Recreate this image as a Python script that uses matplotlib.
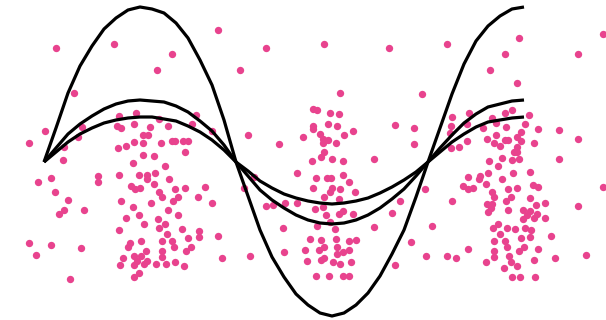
import numpy as np
import matplotlib
matplotlib.use("Agg")
import matplotlib.pyplot as plt

# scatter points (pixel-ish coords, y grows downward)
pts_x = [56, 114, 172, 157, 74, 45, 29, 82, 78, 64, 119, 136, 117, 121, 134, 150, 159, 168, 192, 196,
         143, 148, 134, 143, 126, 118, 161, 172, 175, 183, 188, 185, 143, 154, 63,
         218, 266, 324, 389, 240, 340, 313, 317, 330, 339, 395, 212, 248, 279, 303, 313, 313, 328, 337,
         320, 323, 328, 323, 336, 344, 353, 324, 321, 312, 332, 343, 374,
         447, 519, 603, 505, 578, 490, 517, 422, 414, 414, 452, 469, 451, 467, 450, 451, 459, 467, 483,
         492, 496, 505, 512, 506, 496, 487, 494, 500, 505, 508, 517, 521, 525, 529, 538, 559, 578, 534,
         521, 517, 514, 517, 489, 502, 512, 519, 559,
         133, 165, 38, 51, 55, 68, 59, 64, 84, 98, 98, 119, 139, 147, 147, 155, 169, 131, 135, 140,
         154, 159, 162, 175, 185, 121, 133, 151, 173, 178, 198, 126, 139, 144, 158, 168, 178, 119, 159,
         165, 167, 182, 199, 199, 29, 51, 36, 81, 70, 141, 130, 128, 162, 172, 174, 188, 191, 186, 146,
         162, 162, 123, 120, 134, 141, 137, 134, 147, 144, 156, 166, 175, 184, 139, 134,
         205, 212, 244, 254, 297, 316, 327, 331, 343, 349, 355, 313, 332, 330, 340, 324, 339, 266, 273,
         285, 297, 315, 323, 326, 339, 343, 353, 392, 400, 330, 335, 317, 283, 374, 218, 310, 321, 336,
         349, 356, 324, 319, 337, 337, 343, 349, 305, 284, 222, 250, 307, 321, 324, 333, 340, 351, 395,
         316, 329, 343, 349,
         498, 468, 480, 479, 488, 502, 513, 530, 463, 468, 473, 486, 492, 494, 508, 517, 533, 538, 603,
         425, 452, 487, 492, 488, 491, 506, 511, 508, 530, 536, 545, 523, 530, 527, 523, 537, 534, 545,
         578, 432, 411, 426, 447, 456, 468, 493, 498, 500, 507, 515, 525, 531, 530, 551, 494, 505, 507,
         521, 524, 519, 538, 494, 494, 509, 511, 486, 504, 517, 534, 555, 586, 512, 520, 535]
pts_y = [48, 44, 54, 70, 93, 131, 143, 127, 137, 147, 116, 113, 126, 128, 124, 127, 119, 126, 124, 115,
         135, 135, 142, 143, 146, 148, 143, 141, 141, 141, 141, 152, 155, 156, 160,
         30, 48, 44, 48, 70, 93, 109, 110, 113, 114, 125, 131, 135, 144, 137, 126, 129, 124, 126,
         134, 139, 140, 143, 143, 135, 131, 152, 157, 161, 159, 161, 159,
         44, 38, 34, 54, 54, 70, 83, 94, 128, 144, 117, 113, 126, 124, 133, 148, 147, 141, 128,
         118, 123, 113, 110, 127, 135, 139, 143, 146, 140, 140, 137, 132, 124, 115, 129, 130, 139, 143,
         141, 147, 152, 152, 161, 158, 160, 159, 159,
         163, 166, 182, 178, 192, 200, 214, 210, 210, 176, 182, 175, 175, 175, 179, 173, 179, 186, 189, 188,
         184, 192, 197, 189, 188, 201, 207, 203, 201, 197, 197, 218, 215, 224, 219, 210, 215, 230, 228,
         224, 234, 229, 231, 237, 243, 245, 255, 248, 279, 241, 243, 247, 241, 241, 247, 238, 247, 251, 251,
         251, 257, 258, 265, 256, 256, 261, 265, 261, 264, 264, 264, 262, 266, 273, 277,
         187, 203, 188, 177, 173, 178, 178, 178, 175, 182, 192, 188, 188, 192, 189, 197, 199, 206, 205,
         203, 203, 209, 207, 215, 214, 211, 214, 213, 201, 222, 229, 226, 228, 227, 236, 239, 240, 239,
         241, 240, 247, 250, 247, 254, 252, 250, 250, 252, 258, 256, 261, 260, 258, 262, 264, 262, 265,
         276, 276, 276, 276,
         166, 177, 176, 179, 173, 179, 173, 172, 186, 189, 188, 184, 192, 197, 189, 188, 185, 187, 187,
         189, 201, 204, 204, 212, 208, 201, 197, 210, 198, 205, 203, 210, 211, 215, 219, 214, 218, 218,
         206, 226, 242, 256, 256, 258, 249, 228, 224, 234, 228, 229, 228, 230, 237, 236, 241, 241, 247,
         238, 247, 251, 249, 251, 257, 256, 262, 262, 268, 266, 260, 258, 255, 277, 277, 277]

# the three curves, read every 12 px from x=44 to x=524
curve_x = [44, 56, 68, 80, 92, 104, 116, 128, 140, 152, 164, 176, 188, 200, 212, 224, 236,
           248, 260, 272, 284, 296, 308, 320, 332, 344, 356, 368, 380, 392, 404, 416, 428,
           440, 452, 464, 476, 488, 500, 512, 524]
curve_big = [162, 128, 93, 66, 46, 29, 18, 10, 7, 9, 13, 23, 38, 60, 85, 120, 162,
             196, 230, 257, 277, 294, 305, 313, 316, 313, 305, 293, 276, 254, 230, 197, 162,
             128, 94, 64, 41, 26, 16, 9, 7]
curve_mid = [162, 148, 134, 124, 116, 109, 104, 101, 100, 101, 102, 106, 112, 121, 131, 145, 162,
             176, 190, 200, 208, 215, 220, 223, 224, 223, 220, 215, 208, 199, 189, 176, 162,
             148, 135, 123, 114, 107, 104, 101, 100]
curve_small = [162, 152, 142, 134, 128, 123, 120, 118, 117, 117, 119, 121, 126, 132, 140, 150, 162,
               171, 181, 188, 194, 198, 201, 203, 204, 203, 201, 198, 193, 187, 180, 172, 162,
               152, 142, 134, 127, 122, 120, 118, 117]

fig = plt.figure(figsize=(6.06, 3.2), dpi=100)
ax = fig.add_axes([0, 0, 1, 1])
ax.scatter(pts_x, pts_y, s=28, color="#e8438e", linewidths=0, zorder=1)
for cy in [curve_big, curve_mid, curve_small]:
    ax.plot(curve_x, cy, color="black", lw=2.3, solid_capstyle="butt", solid_joinstyle="round", zorder=2)
ax.set_xlim(0, 606)
ax.set_ylim(320, 0)
ax.axis("off")
fig.savefig("out.png", dpi=100)
